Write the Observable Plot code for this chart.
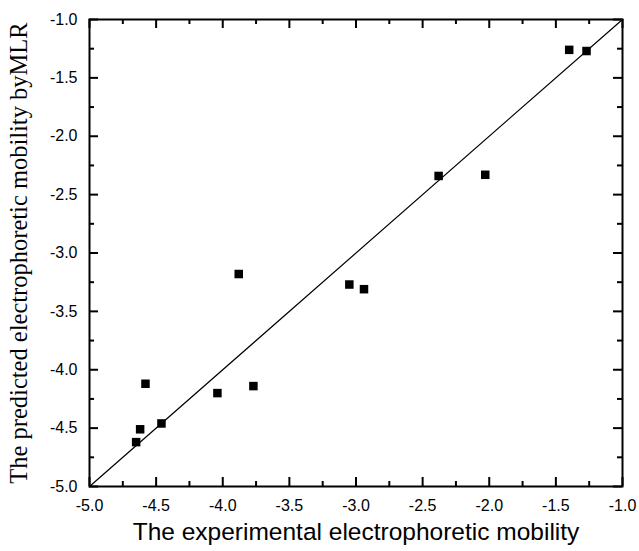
<!DOCTYPE html>
<html>
<head>
<meta charset="utf-8">
<script src="https://cdn.jsdelivr.net/npm/d3@7"></script>
<script src="https://cdn.jsdelivr.net/npm/@observablehq/plot@0.6"></script>
<style>
  html, body { margin: 0; padding: 0; background: #fff; }
</style>
</head>
<body>
<div id="chart"></div>
<script>
// Experimental vs predicted electrophoretic mobility
const experimental = [-4.65, -4.62, -4.58, -4.46, -4.04, -3.77, -3.88, -3.05, -2.94, -2.38, -2.03, -1.40, -1.27];
const predicted    = [-4.62, -4.51, -4.12, -4.46, -4.20, -4.14, -3.18, -3.27, -3.31, -2.34, -2.33, -1.26, -1.27];
const diagonal = [-5, -1];
const majorTicks = [-5.0, -4.5, -4.0, -3.5, -3.0, -2.5, -2.0, -1.5, -1.0];
const minorTicks = [-4.75, -4.25, -3.75, -3.25, -2.75, -2.25, -1.75, -1.25];
const xLabel = "The experimental electrophoretic mobility";
const yLabel = "The predicted electrophoretic mobility byMLR";

const points = experimental.map((x, i) => ({x, y: predicted[i]}));

const W = 639, H = 551;
const mL = 89, mR = 17, mT = 19, mB = 65;
const innerW = W - mL - mR, innerH = H - mT - mB;
const fmt = d => d.toFixed(1);

const chart = Plot.plot({
  width: W,
  height: H,
  marginLeft: mL,
  marginRight: mR,
  marginTop: mT,
  marginBottom: mB,
  style: {fontFamily: "'Liberation Sans', Arial, sans-serif", background: "#fff", color: "#000"},
  x: {domain: [-5, -1]},
  y: {domain: [-5, -1]},
  marks: [
    // identity line
    Plot.line(diagonal, {x: d => d, y: d => d, stroke: "#000", strokeWidth: 1.2}),
    // inward ticks: bottom & top
    Plot.tickX(majorTicks, {x: d => d, insetTop: innerH - 9, stroke: "#000", strokeWidth: 2}),
    Plot.tickX(majorTicks, {x: d => d, insetBottom: innerH - 9, stroke: "#000", strokeWidth: 2}),
    Plot.tickX(minorTicks, {x: d => d, insetTop: innerH - 5, stroke: "#000", strokeWidth: 2}),
    Plot.tickX(minorTicks, {x: d => d, insetBottom: innerH - 5, stroke: "#000", strokeWidth: 2}),
    // inward ticks: left & right
    Plot.tickY(majorTicks, {y: d => d, insetRight: innerW - 9, stroke: "#000", strokeWidth: 2}),
    Plot.tickY(majorTicks, {y: d => d, insetLeft: innerW - 9, stroke: "#000", strokeWidth: 2}),
    Plot.tickY(minorTicks, {y: d => d, insetRight: innerW - 5, stroke: "#000", strokeWidth: 2}),
    Plot.tickY(minorTicks, {y: d => d, insetLeft: innerW - 5, stroke: "#000", strokeWidth: 2}),
    Plot.frame({stroke: "#000", strokeWidth: 2}),
    // tick labels
    Plot.axisX(majorTicks, {anchor: "bottom", tickSize: 0, tickPadding: 13, tickFormat: fmt, fontSize: 16, label: null}),
    Plot.axisY(majorTicks, {anchor: "left", tickSize: 0, tickPadding: 12, tickFormat: fmt, fontSize: 16, label: null}),
    // axis titles
    Plot.text([xLabel], {text: d => d, frameAnchor: "bottom", dy: 53, fontSize: 24.5, fill: "#000",
      textAnchor: "middle", fontFamily: "'Liberation Sans', Arial, sans-serif"}),
    Plot.text([yLabel], {text: d => d, frameAnchor: "left", dx: -70, dy: 0, rotate: -90, fontSize: 24.5, fill: "#000",
      textAnchor: "middle", fontFamily: "'Liberation Serif', 'Times New Roman', serif"}),
    // data points
    Plot.dot(points, {x: "x", y: "y", symbol: "square", r: 4.8, fill: "#000", stroke: "none"})
  ]
});
document.getElementById("chart").appendChild(chart);
</script>
</body>
</html>
